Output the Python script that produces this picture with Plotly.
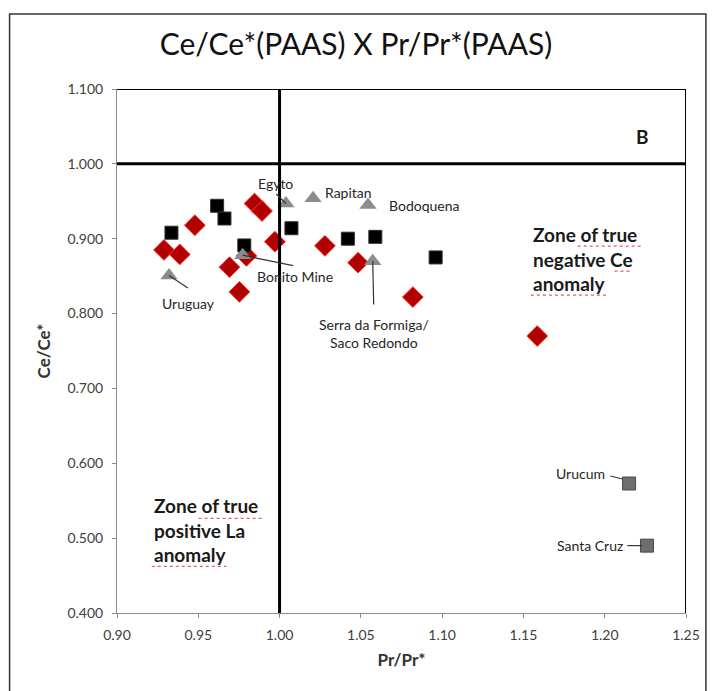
import plotly.graph_objects as go

# ---- data ----
sq_x = [0.9616, 0.9661, 0.9335, 0.9783, 1.0073, 1.042, 1.0589, 1.096]
sq_y = [0.944, 0.927, 0.908, 0.891, 0.914, 0.900, 0.9025, 0.875]

dia_x = [0.9846, 0.9892, 0.9479, 0.9289, 0.9386, 0.9971, 1.0279, 0.9692, 1.0483, 0.9753, 1.082, 0.9796, 1.1585]
dia_y = [0.947, 0.937, 0.918, 0.885, 0.879, 0.896, 0.8905, 0.862, 0.868, 0.829, 0.822, 0.877, 0.770]

tri_names = ["Egyto", "Rapitan", "Bodoquena", "Bonito Mine", "Uruguay", "Serra da Formiga/<br>Saco Redondo"]
tri_x = [1.0039, 1.0206, 1.0544, 0.9773, 0.932, 1.0573]
tri_y = [0.947, 0.954, 0.945, 0.878, 0.851, 0.870]

gsq_names = ["Urucum", "Santa Cruz"]
gsq_x = [1.215, 1.226]
gsq_y = [0.573, 0.490]

x_ticks = [0.90, 0.95, 1.00, 1.05, 1.10, 1.15, 1.20, 1.25]
y_ticks = [0.4, 0.5, 0.6, 0.7, 0.8, 0.9, 1.0, 1.1]

FONT = "Lato"

fig = go.Figure()
fig.add_trace(go.Scatter(x=dia_x, y=dia_y, mode="markers",
                         marker=dict(symbol="diamond", size=16, color="#B00000",
                                     line=dict(color="#FF3030", width=1))))
fig.add_trace(go.Scatter(x=sq_x, y=sq_y, mode="markers",
                         marker=dict(symbol="square", size=13, color="#000000",
                                     line=dict(color="#303030", width=1))))
fig.add_trace(go.Scatter(x=tri_x, y=tri_y, mode="markers",
                         marker=dict(symbol="triangle-up", size=15, color="#8C8C8C",
                                     line=dict(width=0))))
fig.add_trace(go.Scatter(x=gsq_x, y=gsq_y, mode="markers",
                         marker=dict(symbol="square", size=13, color="#6E6E6E",
                                     line=dict(color="#4A4A4A", width=1))))

shapes = []
# reference lines
shapes.append(dict(type="line", xref="x", yref="y", x0=1.0, x1=1.0, y0=0.4, y1=1.1,
                   line=dict(color="black", width=3)))
shapes.append(dict(type="line", xref="x", yref="y", x0=0.9, x1=1.25, y0=1.0, y1=1.0,
                   line=dict(color="black", width=3)))
# top & right frame
shapes.append(dict(type="line", xref="x", yref="y", x0=0.9, x1=1.25, y0=1.1, y1=1.1,
                   line=dict(color="black", width=2)))
shapes.append(dict(type="line", xref="x", yref="y", x0=1.25, x1=1.25, y0=0.4, y1=1.1,
                   line=dict(color="black", width=2)))
# outer chart border
shapes.append(dict(type="rect", xref="paper", yref="paper", x0=-0.1888, x1=1.035, y0=-0.3, y1=1.143,
                   line=dict(color="#333333", width=1.5), layer="below"))

# leader lines (label end -> point)
leaders = [
    (0, 0.9979, 0.960),   # Egyto
    (3, 1.0083, 0.864),   # Bonito Mine
    (4, 0.9436, 0.834),   # Uruguay
    (5, 1.0579, 0.812),   # Serra
]
for i, lx, ly in leaders:
    shapes.append(dict(type="line", xref="x", yref="y", x0=lx, y0=ly, x1=tri_x[i], y1=tri_y[i],
                       line=dict(color="#333333", width=1.2)))
shapes.append(dict(type="line", xref="x", yref="y", x0=1.2035, y0=0.583, x1=gsq_x[0] - 0.004, y1=0.579,
                   line=dict(color="#333333", width=1.2)))
shapes.append(dict(type="line", xref="x", yref="y", x0=1.2139, y0=gsq_y[1], x1=gsq_x[1] - 0.003, y1=gsq_y[1],
                   line=dict(color="#333333", width=1.2)))

# spell-check style red underlines under zone texts
squiggles = [
    (1.1834, 1.2231, 0.8901), (1.2060, 1.2158, 0.8567), (1.1546, 1.2011, 0.8246),
    (0.9502, 0.9893, 0.5265), (0.9214, 0.9673, 0.4623),
]
for x0, x1, yy in squiggles:
    shapes.append(dict(type="line", xref="x", yref="y", x0=x0, x1=x1, y0=yy, y1=yy,
                       line=dict(color="#E06060", width=1.3, dash="dot")))

lab_font = dict(family=FONT, size=14, color="#262626")
ann = []
ann.append(dict(x=0.9973, y=0.9743, text=tri_names[0], showarrow=False, font=lab_font))
ann.append(dict(x=1.0269, y=0.9623, text=tri_names[1], showarrow=False, font=lab_font, xanchor="left"))
ann.append(dict(x=1.066, y=0.945, text=tri_names[2], showarrow=False, font=lab_font, xanchor="left"))
ann.append(dict(x=1.0095, y=0.850, text=tri_names[3], showarrow=False, font=lab_font))
ann.append(dict(x=0.944, y=0.814, text=tri_names[4], showarrow=False, font=lab_font))
ann.append(dict(x=1.0579, y=0.774, text=tri_names[5], showarrow=False, font=lab_font))
ann.append(dict(x=1.2017, y=0.586, text=gsq_names[0], showarrow=False, font=lab_font, xanchor="right"))
ann.append(dict(x=1.2127, y=0.490, text=gsq_names[1], showarrow=False, font=lab_font, xanchor="right"))

zone_font = dict(family=FONT, size=19, color="#1a1a1a")
ann.append(dict(x=1.1546, y=0.873, text="<b>Zone of true<br>negative Ce<br>anomaly</b>", showarrow=False,
                font=zone_font, xanchor="left", align="left"))
ann.append(dict(x=0.9216, y=0.5104, text="<b>Zone of true<br>positive La<br>anomaly</b>", showarrow=False,
                font=zone_font, xanchor="left", align="left"))
ann.append(dict(x=1.223, y=1.036, text="<b>B</b>", showarrow=False,
                font=dict(family=FONT, size=19, color="#1a1a1a")))

fig.update_layout(
    width=712, height=691,
    margin=dict(l=117, r=23, t=89, b=78),
    paper_bgcolor="white", plot_bgcolor="white",
    showlegend=False,
    title=dict(text="Ce/Ce*(PAAS) X Pr/Pr*(PAAS)", x=0.5, xanchor="center", y=0.935, yanchor="middle",
               font=dict(family=FONT, size=30, color="#111111")),
    shapes=shapes, annotations=ann,
    xaxis=dict(range=[0.9, 1.25], tickvals=x_ticks, ticktext=[f"{v:.2f}" for v in x_ticks],
               showgrid=False, zeroline=False, showline=True, linecolor="#8C8C8C", linewidth=1,
               ticks="outside", ticklen=4, tickcolor="#8C8C8C", ticklabelstandoff=5,
               tickfont=dict(family=FONT, size=14, color="#404040"),
               title=dict(text="<b>Pr/Pr*</b>", font=dict(family=FONT, size=17, color="#333333"), standoff=12)),
    yaxis=dict(range=[0.4, 1.1], tickvals=y_ticks, ticktext=[f"{v:.3f}" for v in y_ticks],
               showgrid=False, zeroline=False, showline=True, linecolor="#8C8C8C", linewidth=1,
               ticks="outside", ticklen=4, tickcolor="#8C8C8C", ticklabelstandoff=6,
               tickfont=dict(family=FONT, size=14, color="#404040"),
               title=dict(text="<b>Ce/Ce*</b>", font=dict(family=FONT, size=17, color="#333333"), standoff=12)),
)

fig.write_html("out.html")
